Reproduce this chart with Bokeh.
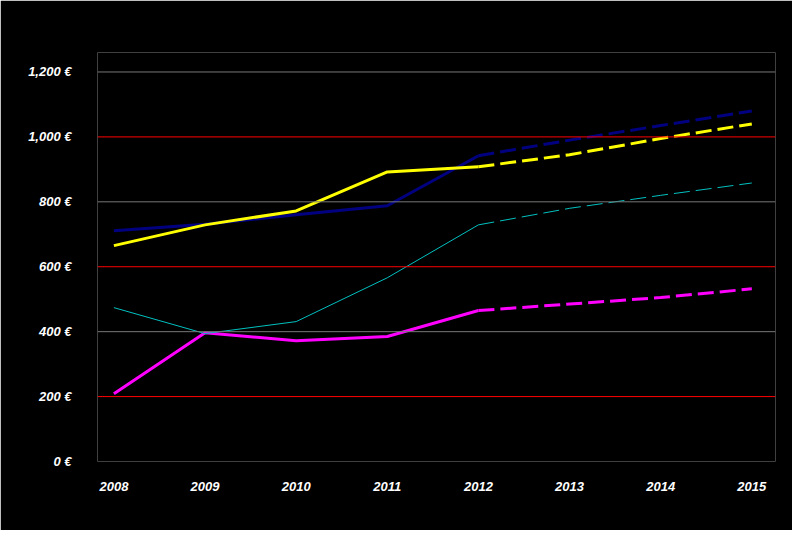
from bokeh.plotting import figure
from bokeh.models import Span, Label, Legend, LegendItem, FixedTicker, CustomJSTickFormatter
from bokeh.embed import file_html
from bokeh.resources import INLINE

years = [2008, 2009, 2010, 2011, 2012, 2013, 2014, 2015]
edp = [711, 731, 760, 788, 942, 990, 1035, 1080]
gas = [209, 397, 372, 385, 465, 485, 505, 532]
propane = [665, 729, 772, 892, 908, 945, 995, 1040]
oil = [474, 394, 431, 566, 729, 780, 820, 858]
y_ticks = [0, 200, 400, 600, 800, 1000, 1200]
grid_colors = {200: "red", 400: "#777777", 600: "red", 800: "#777777", 1000: "red", 1200: "#777777"}

p = figure(width=792, height=530, output_backend="svg", toolbar_location=None,
           x_range=(2007.82, 2015.26), y_range=(0, 1260),
           background_fill_color="black", border_fill_color="black",
           min_border_left=97, min_border_right=17, min_border_top=52, min_border_bottom=69)
p.outline_line_color = None
p.xgrid.visible = False
p.ygrid.visible = False
for ax in (p.xaxis[0], p.yaxis[0]):
    ax.axis_line_color = None
    ax.major_tick_line_color = None
    ax.minor_tick_line_color = None
    ax.major_label_text_color = "white"
    ax.major_label_text_font_style = "bold italic"
    ax.major_label_text_font = "Liberation Sans"
    ax.major_label_text_font_size = "13px"
p.xaxis.ticker = FixedTicker(ticks=years)
p.yaxis.ticker = FixedTicker(ticks=y_ticks)
p.yaxis.formatter = CustomJSTickFormatter(code="return tick.toLocaleString('en-US') + ' €';")
p.xaxis.major_label_standoff = 14
p.yaxis.major_label_standoff = 20

for v, c in grid_colors.items():
    p.add_layout(Span(location=v, dimension="width", line_color=c, line_width=1))

series = [("EDP (Elec)", edp, "#000080", 3), ("Natural Gas", gas, "magenta", 3),
          ("Propane (Bottle)", propane, "yellow", 3), ("Heating Oil", oil, "#00c0c0", 1)]
items = []
for name, vals, col, w in series:
    r = p.line(years[:5], vals[:5], line_color=col, line_width=w)
    p.line(years[4:], vals[4:], line_color=col, line_width=w, line_dash="16 6")
    items.append(LegendItem(label=name, renderers=[r]))

leg = Legend(items=items, orientation="horizontal", location=(85, -66),
             background_fill_color="black", background_fill_alpha=1, border_line_color=None,
             label_text_color="white", label_text_font_style="bold italic",
             label_text_font="Liberation Sans", label_text_font_size="14px",
             glyph_width=35, spacing=12, padding=0, margin=0)
p.add_layout(leg)

p.add_layout(Label(x=2011.14, y=1345, text="Annual costs to heat 200 litres of Hot Water (DHW), per day",
                   text_align="center", text_baseline="middle", text_color="black",
                   text_font="Liberation Sans", text_font_style="bold", text_font_size="17px",
                   background_fill_color="white", padding=2))
p.add_layout(Label(x=2006.74, y=-191, text="www.netgreendevelopments.com",
                   text_align="left", text_baseline="middle", text_color="white",
                   text_font="Liberation Sans", text_font_size="10px"))

open("out.html", "w").write(file_html(p, INLINE))
